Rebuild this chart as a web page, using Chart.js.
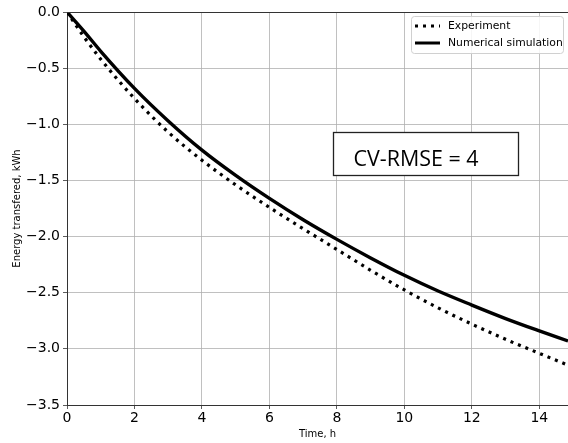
<!DOCTYPE html>
<html>
<head>
<meta charset="utf-8">
<script src="https://cdn.jsdelivr.net/npm/chart.js@4"></script>
<style>
html,body{margin:0;padding:0;background:#fff;}
#wrap{width:568px;height:443px;position:relative;}
</style>
</head>
<body>
<div id="wrap"><canvas id="c" width="568" height="443"></canvas></div>
<script>
const timeH = [0, 0.5, 1, 2, 3, 4, 5, 6, 7, 8, 9, 10, 11, 12, 13, 14, 14.85];
const experiment = [0, -0.22, -0.42, -0.77, -1.07, -1.32, -1.54, -1.74, -1.93, -2.115, -2.30, -2.475, -2.635, -2.78, -2.915, -3.04, -3.145];
const simulation = [0, -0.17, -0.35, -0.68, -0.97, -1.23, -1.455, -1.66, -1.85, -2.025, -2.19, -2.345, -2.485, -2.61, -2.73, -2.84, -2.93];
const xTicks = [0, 2, 4, 6, 8, 10, 12, 14];
const yTicks = [-3.5, -3.0, -2.5, -2.0, -1.5, -1.0, -0.5, 0.0];
const seriesNames = ['Experiment', 'Numerical simulation'];
const annotationText = 'CV-RMSE = 4';
const xTitle = 'Time, h';
const yTitle = 'Energy transfered, kWh';

const toPts = (ys) => timeH.map((t, i) => ({x: t, y: ys[i]}));
const tickFont = {family: 'DejaVu Sans', size: 14};

const extras = {
  id: 'extras',
  afterDraw(chart) {
    const ctx = chart.ctx;
    const a = chart.chartArea;
    ctx.save();
    // top spine
    ctx.strokeStyle = '#333';
    ctx.lineWidth = 1;
    ctx.beginPath();
    ctx.moveTo(a.left, a.top + 0.5);
    ctx.lineTo(a.right, a.top + 0.5);
    ctx.stroke();

    // legend
    const lx = 411.5, ly = 16.5, lw = 152, lh = 37, r = 3;
    ctx.fillStyle = 'rgba(255,255,255,0.85)';
    ctx.strokeStyle = '#d0d0d0';
    ctx.lineWidth = 1;
    ctx.beginPath();
    ctx.moveTo(lx + r, ly);
    ctx.lineTo(lx + lw - r, ly);
    ctx.arcTo(lx + lw, ly, lx + lw, ly + r, r);
    ctx.lineTo(lx + lw, ly + lh - r);
    ctx.arcTo(lx + lw, ly + lh, lx + lw - r, ly + lh, r);
    ctx.lineTo(lx + r, ly + lh);
    ctx.arcTo(lx, ly + lh, lx, ly + lh - r, r);
    ctx.lineTo(lx, ly + r);
    ctx.arcTo(lx, ly, lx + r, ly, r);
    ctx.closePath();
    ctx.fill();
    ctx.stroke();

    const rows = [26, 43];
    ctx.strokeStyle = '#000';
    ctx.lineWidth = 3;
    ctx.setLineDash([3, 5]);
    ctx.beginPath();
    ctx.moveTo(415, rows[0]);
    ctx.lineTo(440, rows[0]);
    ctx.stroke();
    ctx.setLineDash([]);
    ctx.beginPath();
    ctx.moveTo(415, rows[1]);
    ctx.lineTo(440, rows[1]);
    ctx.stroke();

    ctx.fillStyle = '#000';
    ctx.font = '10.8px "DejaVu Sans"';
    ctx.textBaseline = 'middle';
    ctx.textAlign = 'left';
    ctx.fillText(seriesNames[0], 448, rows[0]);
    ctx.fillText(seriesNames[1], 448, rows[1]);

    // annotation box
    ctx.fillStyle = '#fff';
    ctx.fillRect(333.5, 132.5, 185, 43);
    ctx.strokeStyle = '#222';
    ctx.lineWidth = 1.3;
    ctx.strokeRect(333.5, 132.5, 185, 43);
    let fs = 20;
    ctx.font = fs + 'px "Open Sans"';
    const w = ctx.measureText(annotationText).width;
    fs = fs * 125 / w;
    ctx.font = fs.toFixed(2) + 'px "Open Sans"';
    ctx.fillStyle = '#000';
    ctx.textBaseline = 'alphabetic';
    ctx.fillText(annotationText, 353.5, 166);
    ctx.restore();
  }
};

new Chart(document.getElementById('c'), {
  type: 'line',
  data: {
    datasets: [
      {
        label: seriesNames[0],
        data: toPts(experiment),
        borderColor: '#000',
        borderWidth: 3.2,
        borderDash: [3, 5],
        borderCapStyle: 'butt',
        pointRadius: 0,
        fill: false,
        cubicInterpolationMode: 'monotone'
      },
      {
        label: seriesNames[1],
        data: toPts(simulation),
        borderColor: '#000',
        borderWidth: 3.4,
        pointRadius: 0,
        fill: false,
        cubicInterpolationMode: 'monotone'
      }
    ]
  },
  options: {
    responsive: false,
    animation: false,
    events: [],
    layout: {padding: {top: 12, right: 0, left: 0, bottom: 0}},
    plugins: {legend: {display: false}, tooltip: {enabled: false}},
    scales: {
      x: {
        type: 'linear',
        min: 0,
        max: 14.85,
        afterBuildTicks: (s) => { s.ticks = xTicks.map(v => ({value: v})); },
        afterFit: (s) => { s.height = 38; },
        ticks: {
          color: '#000',
          font: tickFont,
          padding: 1,
          maxRotation: 0,
          autoSkip: false,
          callback: (v) => String(v)
        },
        grid: {color: '#b0b0b0', lineWidth: 0.8, tickColor: '#333', tickLength: 4},
        border: {color: '#333', width: 1},
        title: {display: true, text: xTitle, color: '#000', font: {family: 'DejaVu Sans', size: 10}, padding: {top: 0, bottom: 3}}
      },
      y: {
        type: 'linear',
        min: -3.5,
        max: 0,
        afterBuildTicks: (s) => { s.ticks = yTicks.map(v => ({value: v})); },
        afterFit: (s) => { s.width = 67; },
        ticks: {
          color: '#000',
          font: tickFont,
          padding: 3,
          autoSkip: false,
          callback: (v) => v.toFixed(1).replace('-', '\u2212')
        },
        grid: {color: '#b0b0b0', lineWidth: 0.8, tickColor: '#333', tickLength: 4},
        border: {color: '#333', width: 1},
        title: {display: true, text: yTitle, color: '#000', font: {family: 'DejaVu Sans', size: 10}, padding: {top: 11, bottom: 0}}
      }
    }
  },
  plugins: [extras]
});
</script>
</body>
</html>
